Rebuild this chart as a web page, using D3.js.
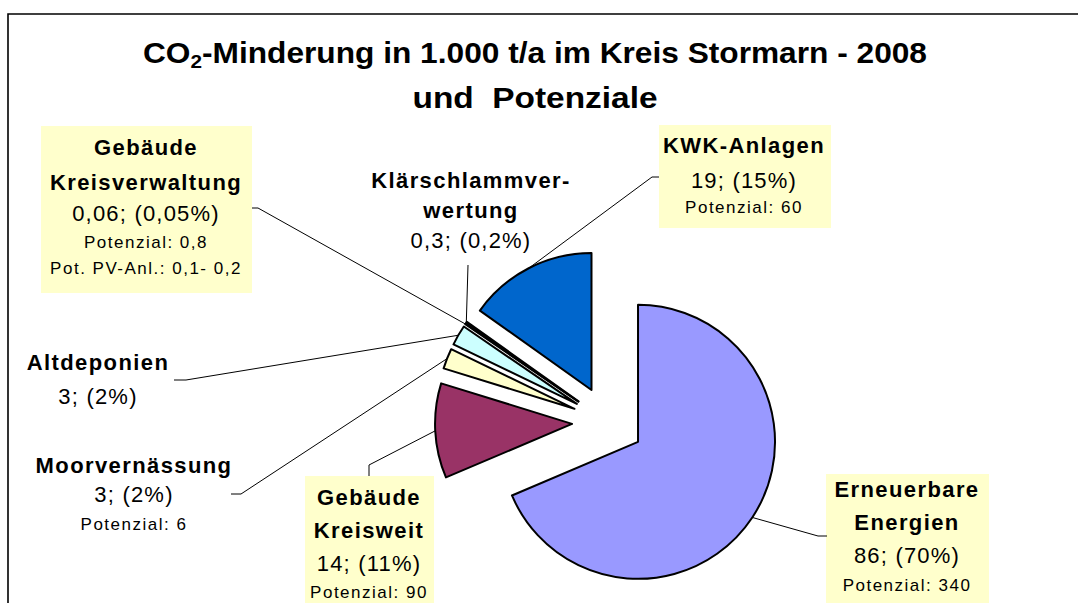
<!DOCTYPE html>
<head>
    <meta charset="utf-8">
    <script src="https://d3js.org/d3.v7.min.js"></script>
    <title>CO2-Minderung Stormarn</title>
    <style>
        body { margin: 0; background: #fff; }
        svg { font-family: "Liberation Sans", Arial, sans-serif; }
        .slice { stroke: #000; stroke-width: 2; stroke-linejoin: round; }
        .leader { fill: none; stroke: #000; stroke-width: 1; }
        .bold { font-weight: bold; font-size: 22px; letter-spacing: 1.4px; }
        .val { font-size: 22px; letter-spacing: 1.2px; }
        .small { font-size: 17px; letter-spacing: 1.5px; }
    </style>
</head>

<body>
    <svg id="chart" width="1078" height="603"></svg>
    <script>

        // data, order clockwise from 12 o'clock
        categories = ["Erneuerbare Energien", "Gebäude Kreisweit", "Moorvernässung", "Altdeponien",
            "Gebäude Kreisverwaltung", "Klärschlammverwertung", "KWK-Anlagen"]
        values = [86, 14, 3, 3, 0.06, 0.3, 19]
        valueTexts = ["86", "14", "3", "3", "0,06", "0,3", "19"]
        percentTexts = ["70%", "11%", "2%", "2%", "0,05%", "0,2%", "15%"]
        potentials = ["Potenzial: 340", "Potenzial: 90", "Potenzial: 6", null, "Potenzial: 0,8", null, "Potenzial: 60"]
        extraNotes = [null, null, null, null, "Pot. PV-Anl.: 0,1- 0,2", null, null]
        nameLines = [["Erneuerbare", "Energien"], ["Gebäude", "Kreisweit"], ["Moorvernässung"], ["Altdeponien"],
            ["Gebäude", "Kreisverwaltung"], ["Klärschlammver-", "wertung"], ["KWK-Anlagen"]]

        colors = ["#9999FF", "#993366", "#FFFFCC", "#CCFFFF", "#FFFFFF", "#FFFFFF", "#0066CC"]

        // layout of the labels (boxes, line centres, leader elbows)
        var layout = [
            { cx: 907, ys: [489, 522, 555, 585], box: [826, 474, 163, 135], elbow: [[827, 536], [818, 536]] },
            { cx: 369, ys: [497, 530, 563, 592], box: [305, 476, 129, 135], elbow: [[369, 476], [369, 465]] },
            { cx: 134, ys: [465, 494, 524], box: null, elbow: [[231, 494], [241, 494]] },
            { cx: 98, ys: [362, 396], box: null, elbow: [[174, 380], [186, 380]] },
            { cx: 146, ys: [147, 182, 213, 242, 268], box: [41, 126, 211, 167], elbow: [[252, 208], [258, 208]] },
            { cx: 471, ys: [180, 210, 240], box: null, elbow: [[468, 265]] },
            { cx: 744, ys: [145, 180, 207], box: [659, 125, 172, 103], elbow: [[659, 177], [652, 177]] }
        ]

        var svg = d3.select("#chart")
        var center = [608, 422], radius = 137, explode = 36

        // frame
        svg.append("path")
            .attr("d", "M8,603 L8,14 L1078,14")
            .attr("fill", "none").attr("stroke", "#000").attr("stroke-width", 1.6)

        // title
        var t1 = svg.append("text")
            .attr("x", 535).attr("y", 63)
            .attr("text-anchor", "middle")
            .attr("font-size", 29).attr("font-weight", "bold")
            .attr("textLength", 784).attr("lengthAdjust", "spacingAndGlyphs")
        t1.append("tspan").text("CO")
        t1.append("tspan").attr("font-size", 19).attr("dy", 5).text("2")
        t1.append("tspan").attr("dy", -5).text("-Minderung in 1.000 t/a im Kreis Stormarn - 2008")

        svg.append("text")
            .attr("x", 535).attr("y", 108)
            .attr("text-anchor", "middle")
            .attr("font-size", 29).attr("font-weight", "bold")
            .attr("textLength", 245).attr("lengthAdjust", "spacingAndGlyphs")
            .attr("xml:space", "preserve")
            .text("und  Potenziale")

        var pie = d3.pie().sort(null).value(d => d)
        var arcs = pie(values)
        var arc = d3.arc().innerRadius(0).outerRadius(radius)
        var rim = d3.arc().innerRadius(radius).outerRadius(radius)

        function offset(d) {
            var a = (d.startAngle + d.endAngle) / 2
            return [explode * Math.sin(a), -explode * Math.cos(a)]
        }

        // label boxes
        layout.forEach(function (l) {
            if (l.box) {
                svg.append("rect")
                    .attr("x", l.box[0]).attr("y", l.box[1])
                    .attr("width", l.box[2]).attr("height", l.box[3])
                    .attr("fill", "#FFFFCC")
            }
        })

        // leader lines
        svg.append("g").selectAll("path")
            .data(arcs)
            .join("path")
            .attr("class", "leader")
            .attr("d", function (d, i) {
                var o = offset(d)
                var c = rim.centroid(d)
                var pts = layout[i].elbow.concat([[center[0] + o[0] + c[0], center[1] + o[1] + c[1]]])
                return d3.line()(pts)
            })

        // slices
        svg.append("g").selectAll("path")
            .data(arcs)
            .join("path")
            .attr("class", "slice")
            .attr("fill", (d, i) => colors[i])
            .attr("transform", function (d) {
                var o = offset(d)
                return `translate(${center[0] + o[0]},${center[1] + o[1]})`
            })
            .attr("d", arc)

        // label texts
        categories.forEach(function (c, i) {
            var lines = nameLines[i].map(s => ({ t: s, cls: "bold" }))
            lines.push({ t: valueTexts[i] + "; (" + percentTexts[i] + ")", cls: "val" })
            if (potentials[i]) lines.push({ t: potentials[i], cls: "small" })
            if (extraNotes[i]) lines.push({ t: extraNotes[i], cls: "small" })
            var l = layout[i]
            lines.forEach(function (ln, j) {
                svg.append("text")
                    .attr("class", ln.cls)
                    .attr("x", l.cx).attr("y", l.ys[j])
                    .attr("text-anchor", "middle")
                    .attr("dominant-baseline", "central")
                    .text(ln.t)
            })
        })

    </script>
</body>
